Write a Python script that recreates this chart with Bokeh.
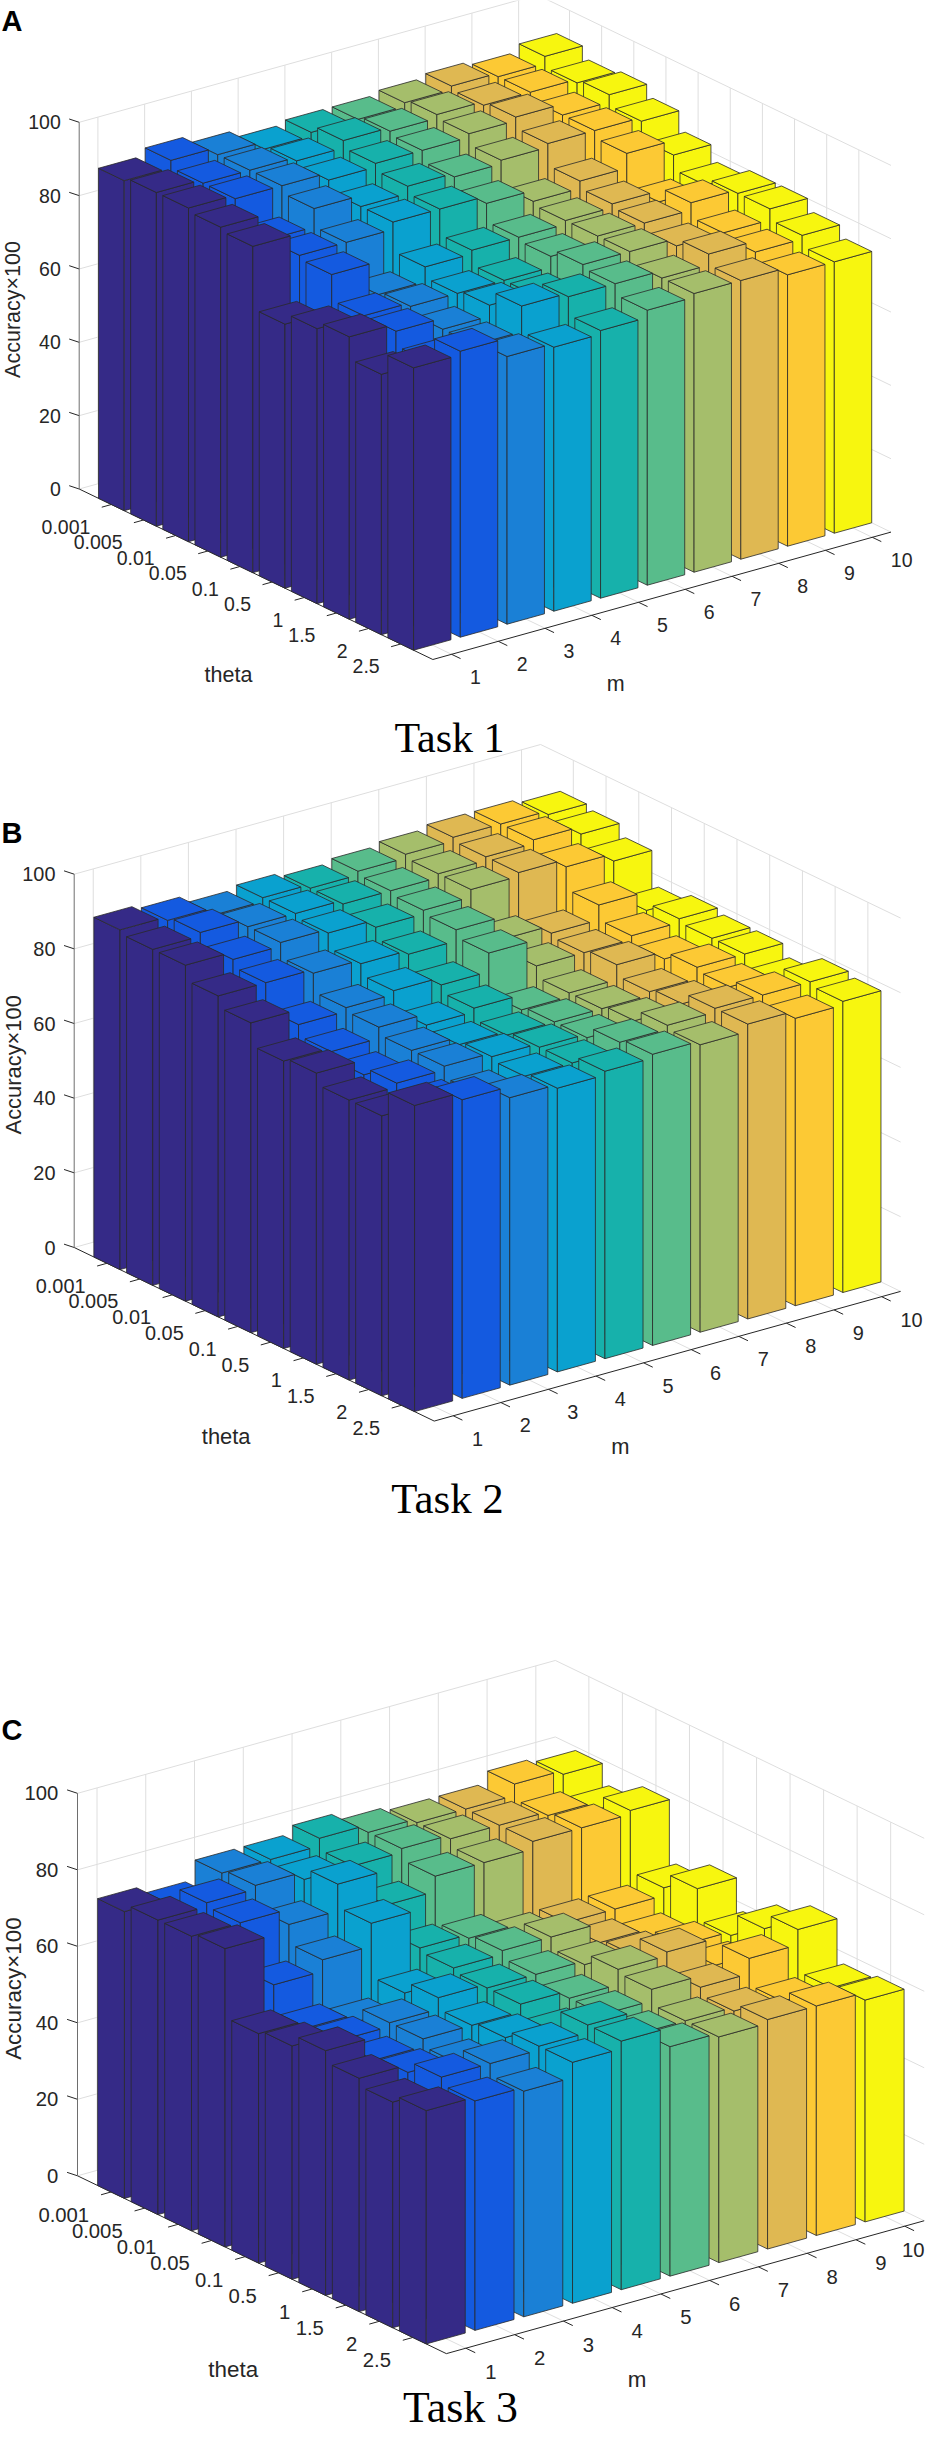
import math
from bokeh.plotting import figure
from bokeh.models import Range1d
from bokeh.core.properties import value
from bokeh.embed import file_html
from bokeh.resources import INLINE

# ---------------- data (rows = theta, columns = m) ----------------
theta_labels = ["0.001", "0.005", "0.01", "0.05", "0.1", "0.5", "1", "1.5", "2", "2.5"]
m_labels = ["1", "2", "3", "4", "5", "6", "7", "8", "9", "10"]
z_ticks = [0, 20, 40, 60, 80, 100]

task1 = [
    [90, 92, 90, 88, 89, 89, 90, 91, 90, 92],
    [91, 90, 90, 89, 91, 90, 91, 90, 90, 89],
    [91, 90, 90, 88, 89, 89, 90, 91, 88, 90],
    [90, 83, 88, 85, 87, 86, 87, 88, 88, 87],
    [89, 83, 83, 85, 85, 83, 80, 82, 86, 82],
    [72, 82, 73, 77, 78, 78, 79, 80, 77, 78],
    [75, 75, 74, 74, 74, 77, 79, 79, 81, 80],
    [77, 75, 72, 75, 74, 79, 79, 77, 77, 80],
    [71, 71, 72, 79, 78, 78, 76, 79, 76, 77],
    [77, 78, 73, 72, 73, 75, 76, 76, 74, 74],
]
task2 = [
    [91, 90, 88, 89, 88, 89, 90, 91, 91, 90],
    [90, 91, 89, 89, 88, 88, 89, 90, 91, 89],
    [90, 88, 89, 88, 86, 87, 89, 90, 88, 86],
    [86, 86, 85, 84, 83, 86, 80, 78, 82, 77],
    [83, 79, 80, 81, 79, 84, 77, 77, 78, 79],
    [77, 76, 79, 76, 77, 73, 74, 78, 76, 78],
    [78, 74, 77, 75, 74, 74, 74, 75, 78, 78],
    [75, 76, 77, 76, 75, 74, 75, 76, 77, 75],
    [75, 75, 74, 75, 75, 77, 78, 79, 79, 79],
    [82, 80, 77, 76, 77, 78, 77, 79, 77, 78],
]
task3 = [
    [75, 73, 78, 78, 80, 78, 77, 77, 80, 79],
    [77, 78, 79, 77, 77, 78, 77, 77, 76, 74],
    [77, 77, 73, 80, 71, 75, 75, 77, 77, 78],
    [78, 65, 68, 74, 64, 63, 60, 60, 60, 62],
    [60, 58, 56, 60, 63, 64, 64, 59, 57, 66],
    [61, 59, 60, 63, 62, 62, 61, 60, 59, 58],
    [64, 58, 60, 60, 62, 60, 64, 65, 58, 64],
    [61, 59, 58, 61, 59, 60, 63, 60, 64, 68],
    [59, 62, 62, 63, 65, 59, 59, 58, 57, 57],
    [61, 60, 59, 63, 65, 60, 59, 60, 60, 58],
]
bar_colors = ["#352a87", "#145ae0", "#1a80d6", "#0aa1cf", "#17b1ab",
              "#58bc8b", "#a5be6b", "#dfb852", "#fcc934", "#f7f60f"]

panels = [
    dict(data=task1, origin=(86.7, 496.5), s=1.000, title="Task 1", title_pos=(457, 745),
         letter="A", letter_y=28),
    dict(data=task2, origin=(81.7, 1255.0), s=1.018, title="Task 2", title_pos=(455, 1506),
         letter="B", letter_y=840),
    dict(data=task3, origin=(85.0, 2183.3), s=1.043, title="Task 3", title_pos=(468, 2414),
         letter="C", letter_y=1737),
]

# projection of the 3-D box (theta index i, m index j, accuracy z)
EI = (32.15, 15.5)
EJ = (46.75, -13.0)
EZ = 3.667
I0, I1 = 0.0, 11.0
J0, J1 = 0.6, 10.4
HALF = 0.4
RIGHT_LIMIT = 932.0   # keep tick labels inside the visible page

GRID = "#dedede"
AX = "#262626"
SANS = value("Liberation Sans")
SERIF = value("Liberation Serif")

p = figure(width=930, height=2436, x_range=Range1d(8, 938), y_range=Range1d(2444, 8),
           output_backend="svg", toolbar_location=None, min_border=0,
           x_axis_type=None, y_axis_type=None)
p.outline_line_color = None
p.background_fill_color = "white"


def make_proj(pan):
    ox, oy = pan["origin"]
    s = pan["s"]

    def proj(i, j, z):
        x = ox + s * (EI[0] * (i - I0) + EJ[0] * (j - J0))
        y = oy + s * (EI[1] * (i - I0) + EJ[1] * (j - J0)) - s * EZ * z
        return x, y
    return proj


for pan in panels:
    proj = make_proj(pan)
    s = pan["s"]
    ox, oy = pan["origin"]
    data = pan["data"]
    n_i = len(theta_labels)
    n_j = len(m_labels)
    fs = 19.5 * s

    # ---- grid lines on back walls and floor ----
    gx, gy = [], []

    def seg(a, b):
        gx.append([a[0], b[0]])
        gy.append([a[1], b[1]])

    for j in range(1, n_j + 1):
        seg(proj(I0, j, 0), proj(I0, j, 100))
        seg(proj(I0, j, 0), proj(I1, j, 0))
    for i in range(1, n_i + 1):
        seg(proj(i, J1, 0), proj(i, J1, 100))
        seg(proj(i, J0, 0), proj(i, J1, 0))
    for z in z_ticks:
        seg(proj(I0, J0, z), proj(I0, J1, z))
        seg(proj(I0, J1, z), proj(I1, J1, z))
    p.multi_line(gx, gy, line_color=GRID, line_width=1)

    # ---- axis lines and ticks ----
    ax_x, ax_y = [], []

    def aseg(a, b):
        ax_x.append([a[0], b[0]])
        ax_y.append([a[1], b[1]])

    aseg(proj(I0, J0, 0), proj(I1, J0, 0))
    aseg(proj(I1, J0, 0), proj(I1, J1, 0))
    tx, ty, tt = [], [], []
    for k, lab in enumerate(theta_labels):
        t = proj(k + 1, J0, 0)
        aseg(t, (t[0] - 9.6 * s, t[1] + 2.7 * s))
        tx.append(t[0] - 21 * s)
        ty.append(t[1] + 22 * s)
        tt.append(lab)
    p.text(tx, ty, text=tt, text_font=SANS, text_font_size=f"{fs:.1f}px",
           text_align="right", text_baseline="middle", text_color=AX)
    mx, my, mt = [], [], []
    for k, lab in enumerate(m_labels):
        t = proj(I1, k + 1, 0)
        aseg(t, (t[0] + 9.0 * s, t[1] + 4.3 * s))
        lx = t[0] + 18.5 * s
        est_w = 0.556 * fs * len(lab)
        mx.append(min(lx, RIGHT_LIMIT - est_w))
        my.append(t[1] + 22.5 * s)
        mt.append(lab)
    p.text(mx, my, text=mt, text_font=SANS, text_font_size=f"{fs:.1f}px",
           text_align="left", text_baseline="middle", text_color=AX)
    zx, zy, zt = [], [], []
    for z in z_ticks:
        t = proj(I0, J0, z)
        aseg(t, (t[0] - 10 * s, t[1] - 3.3 * s))
        zx.append(t[0] - 18.4 * s)
        zy.append(t[1])
        zt.append(str(z))
    p.text(zx, zy, text=zt, text_font=SANS, text_font_size=f"{fs:.1f}px",
           text_align="right", text_baseline="middle", text_color=AX)
    p.multi_line(ax_x, ax_y, line_color=AX, line_width=1)
    za, zb = proj(I0, J0, 0), proj(I0, J0, 100)
    p.line([za[0], zb[0]], [za[1], zb[1]], line_color="#6e6e6e", line_width=1)

    # ---- bars (painter's order: back rows first, right columns first) ----
    fx, fy, fc = [], [], []
    for i in range(1, n_i + 1):
        for j in range(n_j, 0, -1):
            h = data[i - 1][j - 1]
            col = bar_colors[j - 1]
            a, b = i - HALF, i + HALF
            c, d = j - HALF, j + HALF
            faces = [
                [(a, c, 0), (b, c, 0), (b, c, h), (a, c, h)],   # face toward low m
                [(b, c, 0), (b, d, 0), (b, d, h), (b, c, h)],   # face toward high theta
                [(a, c, h), (b, c, h), (b, d, h), (a, d, h)],   # top
            ]
            for f in faces:
                pts = [proj(*v) for v in f]
                fx.append([q[0] for q in pts])
                fy.append([q[1] for q in pts])
                fc.append(col)
    p.patches(fx, fy, fill_color=fc, line_color="#2a2a2a", line_width=0.8, line_join="round")

    # ---- titles ----
    p.text([ox + 149.3 * s], [oy + 185.5 * s], text=["theta"], text_font=SANS,
           text_font_size=f"{21.5 * s:.1f}px", text_align="center", text_baseline="middle",
           text_color=AX)
    p.text([ox + 536.6 * s], [oy + 195.2 * s], text=["m"], text_font=SANS,
           text_font_size=f"{21.5 * s:.1f}px", text_align="center", text_baseline="middle",
           text_color=AX)
    p.text([20.5], [oy - 179.5 * s], text=["Accuracy×100"], text_font=SANS,
           text_font_size=f"{21.5 * s:.1f}px", text_align="center", text_baseline="middle",
           angle=math.pi / 2, text_color=AX)
    p.text([pan["title_pos"][0]], [pan["title_pos"][1]], text=[pan["title"]], text_font=SERIF,
           text_font_size=f"{42 * s:.1f}px", text_align="center", text_baseline="alphabetic",
           text_color="black")
    p.text([9], [pan["letter_y"]], text=[pan["letter"]], text_font=SANS,
           text_font_size="29px", text_font_style="bold", text_align="left",
           text_baseline="alphabetic", text_color="black")

open("out.html", "w").write(file_html(p, INLINE))
